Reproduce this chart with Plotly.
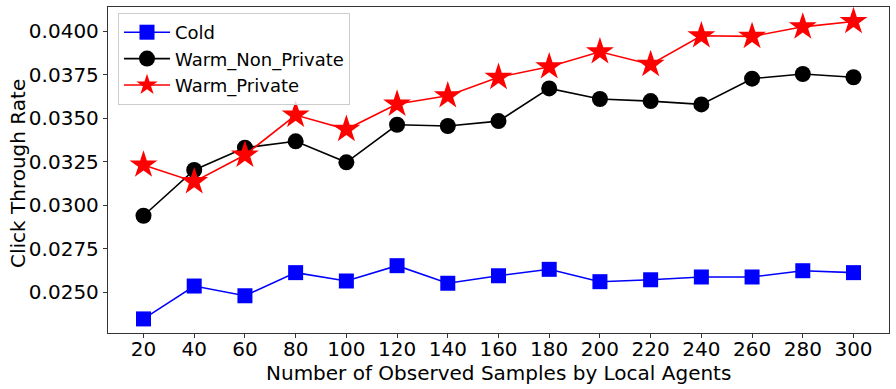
import plotly.graph_objects as go

x_vals = [20, 40, 60, 80, 100, 120, 140, 160, 180, 200, 220, 240, 260, 280, 300]
cold = [0.02347, 0.02536, 0.02480, 0.02613, 0.02565, 0.02653, 0.02552, 0.02595,
        0.02632, 0.02561, 0.02572, 0.02588, 0.02588, 0.02624, 0.02613]
warm_non_private = [0.02940, 0.03203, 0.03331, 0.03368, 0.03247, 0.03463, 0.03456, 0.03484,
                    0.03672, 0.03611, 0.03599, 0.03580, 0.03728, 0.03755, 0.03736]
warm_private = [0.03232, 0.03136, 0.03289, 0.03519, 0.03437, 0.03582, 0.03630, 0.03736,
                0.03797, 0.03883, 0.03810, 0.03975, 0.03971, 0.04026, 0.04057]
y_ticks = [0.0250, 0.0275, 0.0300, 0.0325, 0.0350, 0.0375, 0.0400]

FONT = "DejaVu Sans"
FS = 20
W, H = 896, 389
ML, MR, MT, MB = 108, 7, 7, 56

fig = go.Figure()
fig.add_trace(go.Scatter(x=x_vals, y=cold, name="Cold", mode="lines+markers",
                         line=dict(color="blue", width=1.6),
                         marker=dict(symbol="square", size=15, color="blue")))
fig.add_trace(go.Scatter(x=x_vals, y=warm_non_private, name="Warm_Non_Private", mode="lines+markers",
                         line=dict(color="black", width=1.6),
                         marker=dict(symbol="circle", size=16, color="black")))
fig.add_trace(go.Scatter(x=x_vals, y=warm_private, name="Warm_Private", mode="lines+markers",
                         line=dict(color="red", width=1.6),
                         marker=dict(symbol="star", size=21, color="red")))

axis_common = dict(showline=True, linecolor="#333", linewidth=1.3, mirror=True,
                   ticks="outside", ticklen=4, tickwidth=1.2, tickcolor="#333",
                   showgrid=False, zeroline=False, automargin=False,
                   tickfont=dict(family=FONT, size=FS, color="black"))
fig.update_xaxes(range=[6, 314], tickvals=x_vals, **axis_common)
fig.update_yaxes(range=[0.02266, 0.04140], tickvals=y_ticks, tickformat=".4f", **axis_common)

ph = H - MT - MB
fig.add_annotation(text="Number of Observed Samples by Local Agents", xref="paper", yref="paper",
                   x=0.5, y=-(373 - (H - MB)) / ph, xanchor="center", yanchor="middle",
                   showarrow=False, font=dict(family=FONT, size=FS, color="black"))
fig.add_annotation(text="Click Through Rate", xref="paper", yref="paper",
                   x=-(ML - 18) / (W - ML - MR), y=1 - (174 - MT) / ph, xanchor="center", yanchor="middle",
                   textangle=-90, showarrow=False, font=dict(family=FONT, size=FS, color="black"))

fig.update_layout(width=W, height=H, margin=dict(l=ML, r=MR, t=MT, b=MB),
                  plot_bgcolor="white", paper_bgcolor="white",
                  font=dict(family=FONT, size=FS, color="black"),
                  legend=dict(x=(118 - ML) / (W - ML - MR), y=1 - (13 - MT) / ph,
                              xanchor="left", yanchor="top",
                              bgcolor="rgba(255,255,255,0.8)", bordercolor="#cccccc",
                              borderwidth=1, itemwidth=46, tracegroupgap=0,
                              font=dict(family=FONT, size=18, color="black")))

post = """
document.body.style.margin='0';
document.querySelectorAll('.xtick text').forEach(function(t){ t.setAttribute('dy','-6'); });
"""
fig.write_html("out.html", config={"displayModeBar": False}, post_script=post)
